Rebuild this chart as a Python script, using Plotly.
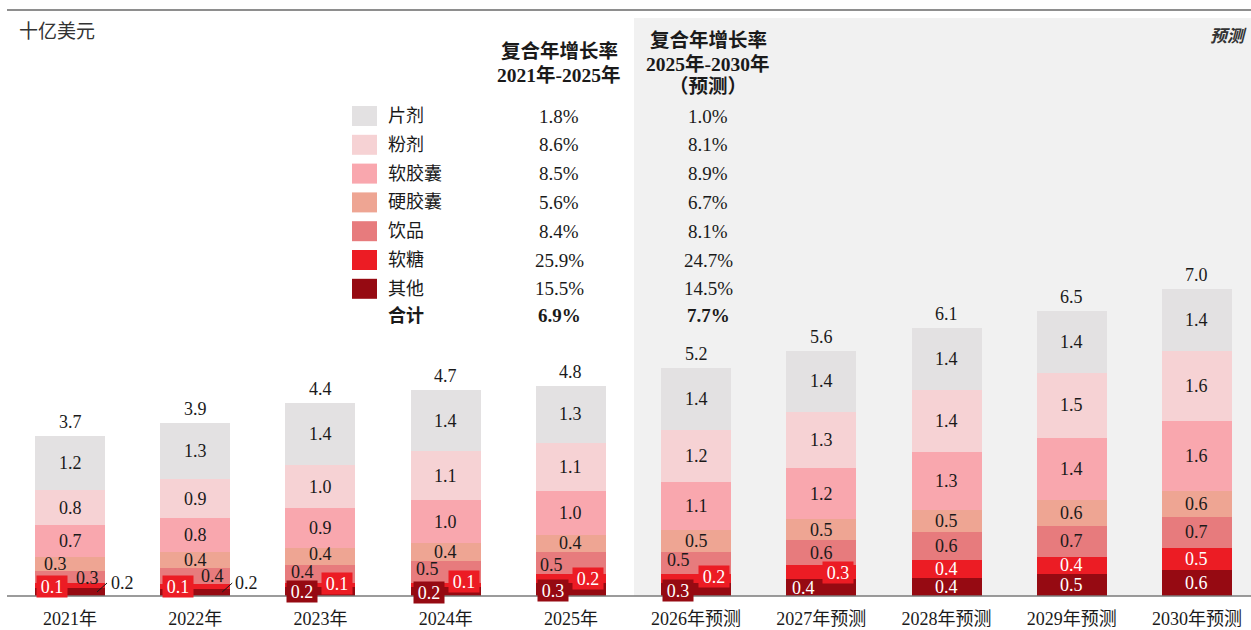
import plotly.graph_objects as go

# ---------------- data ----------------
YEARS = ["2021年", "2022年", "2023年", "2024年", "2025年",
         "2026年预测", "2027年预测", "2028年预测", "2029年预测", "2030年预测"]

tablet = [1.24, 1.28, 1.4, 1.4, 1.3, 1.4, 1.38, 1.42, 1.4, 1.4]     # 片剂
powder = [0.80, 0.88, 1.0, 1.1, 1.1, 1.2, 1.28, 1.42, 1.5, 1.6]     # 粉剂
softcap = [0.72, 0.78, 0.9, 1.0, 1.0, 1.1, 1.18, 1.32, 1.4, 1.6]    # 软胶囊
hardcap = [0.32, 0.36, 0.4, 0.4, 0.4, 0.5, 0.47, 0.52, 0.6, 0.6]    # 硬胶囊
drinks = [0.28, 0.36, 0.4, 0.5, 0.5, 0.5, 0.58, 0.62, 0.7, 0.7]     # 饮品
gummies = [0.12, 0.12, 0.1, 0.1, 0.2, 0.2, 0.32, 0.42, 0.4, 0.5]    # 软糖
others = [0.18, 0.16, 0.2, 0.2, 0.3, 0.3, 0.38, 0.41, 0.5, 0.6]     # 其他

# table order (top -> bottom)
TABLE_NAMES = ["片剂", "粉剂", "软胶囊", "硬胶囊", "饮品", "软糖", "其他"]
cagr_2021_2025 = ["1.8%", "8.6%", "8.5%", "5.6%", "8.4%", "25.9%", "15.5%"]
cagr_2025_2030 = ["1.0%", "8.1%", "8.9%", "6.7%", "8.1%", "24.7%", "14.5%"]
cagr_total = ["6.9%", "7.7%"]

# ---------------- style ----------------
W, H = 1251, 630
BASE_PX = 596          # baseline pixel row
PX_PER_UNIT = 43.8
X0_PX, STEP_PX = 70.0, 125.22
FONT = "Liberation Serif, Noto Sans CJK SC, serif"
TXT = "#1a1a1a"
BAR_FS, TICK_FS, NAME_FS, VAL_FS, HEAD_FS, UNIT_FS = 18, 18, 18, 19, 19.5, 19

COLORS = {
    "片剂": "#E3E1E2",
    "粉剂": "#F6D2D4",
    "软胶囊": "#F9A7AE",
    "硬胶囊": "#EEA593",
    "饮品": "#E77B7D",
    "软糖": "#EC1C24",
    "其他": "#960A12",
}
WHITE_TEXT = {"软糖", "其他"}

STACK = [("其他", others), ("软糖", gummies), ("饮品", drinks), ("硬胶囊", hardcap),
         ("软胶囊", softcap), ("粉剂", powder), ("片剂", tablet)]

# label nudges for thin segments: (year index, series) -> (dx px, dy px, boxed)
NUDGE = {
    (0, "硬胶囊"): (-15, 0, False), (0, "饮品"): (17, 1, False), (0, "软糖"): (-18, 1, True),
    (1, "饮品"): (17, 0, False), (1, "软糖"): (-17, 0, True),
    (2, "硬胶囊"): (0, -3, False), (2, "饮品"): (-18, -2, False),
    (2, "其他"): (-18, 0, True), (2, "软糖"): (17, -2, True),
    (3, "饮品"): (-18, -3, False), (3, "其他"): (-17, 1, True), (3, "软糖"): (18, -4, True),
    (4, "饮品"): (-19, 2, False), (4, "其他"): (-18, 1, True), (4, "软糖"): (17, 0, True),
    (5, "饮品"): (-18, -3, False), (5, "其他"): (-18, 1, True), (5, "软糖"): (18, -2, True),
    (6, "其他"): (-18, 0, False), (6, "软糖"): (17, 0, True),
}
# outside callouts: (year index, series) -> text dx px, dy px
CALLOUT = {(0, "其他"): (52, -9), (1, "其他"): (51, -9.5)}

xr0 = -X0_PX / STEP_PX
xr1 = xr0 + W / STEP_PX
yr1 = BASE_PX / PX_PER_UNIT


def xp(px):
    return px / W


def yp(py):
    return (BASE_PX - py) / BASE_PX


def note(**kw):
    kw.setdefault("showarrow", False)
    kw.setdefault("xanchor", "center")
    kw.setdefault("yanchor", "middle")
    return kw


fig = go.Figure()
xs = list(range(len(YEARS)))
for name, vals in STACK:
    fig.add_trace(go.Bar(x=xs, y=vals, name=name, width=70 / STEP_PX,
                         marker=dict(color=COLORS[name], line=dict(width=0)),
                         hoverinfo="skip", showlegend=False))

annotations = []
shapes = []

# forecast shading & lines
shapes.append(dict(type="rect", xref="paper", yref="paper", x0=xp(634), x1=1,
                   y0=0, y1=yp(18), fillcolor="#F1F1F1", line=dict(width=0), layer="below"))
shapes.append(dict(type="line", xref="paper", yref="paper", x0=xp(7), x1=1,
                   y0=yp(10), y1=yp(10), line=dict(color="#8E8E8E", width=2)))
shapes.append(dict(type="line", xref="paper", yref="paper", x0=xp(7), x1=1,
                   y0=0, y1=0, line=dict(color="#7A7A7A", width=1.5)))

# segment labels
for i in xs:
    cum = 0.0
    for name, vals in STACK:
        v = vals[i]
        mid = cum + v / 2
        cum += v
        color = "white" if name in WHITE_TEXT else TXT
        dx, dy, boxed = NUDGE.get((i, name), (0, 0, False))
        if (i, name) in CALLOUT:
            tdx, tdy = CALLOUT[(i, name)]
            annotations.append(note(x=i + tdx / STEP_PX, y=mid - tdy / PX_PER_UNIT,
                                    xref="x", yref="y", text=f"{v:.1f}",
                                    font=dict(family=FONT, size=BAR_FS, color=TXT)))
            shapes.append(dict(type="line", xref="x", yref="y",
                               x0=i + 27 / STEP_PX, x1=i + 37 / STEP_PX,
                               y0=4 / PX_PER_UNIT, y1=13 / PX_PER_UNIT,
                               line=dict(color=TXT, width=1)))
            continue
        ann = note(x=i + dx / STEP_PX, y=mid - dy / PX_PER_UNIT, xref="x", yref="y",
                   text=f"{v:.1f}", font=dict(family=FONT, size=BAR_FS, color=color))
        if boxed:
            ann.update(bgcolor=COLORS[name], width=28, height=19, borderpad=1)
        annotations.append(ann)
    annotations.append(note(x=i, y=cum, xref="x", yref="y", text=f"{cum:.1f}",
                            yanchor="bottom", yshift=2,
                            font=dict(family=FONT, size=BAR_FS, color=TXT)))

# unit label and forecast tag
annotations.append(note(x=xp(17), y=yp(31), xref="paper", yref="paper", text="十亿美元",
                        xanchor="left", font=dict(family=FONT, size=UNIT_FS, color="#333333")))
annotations.append(note(x=xp(1249), y=yp(36), xref="paper", yref="paper",
                        text="<b><i>预测</i></b>", xanchor="right",
                        font=dict(family=FONT, size=17, color="#333333")))

# CAGR table
COL1, COL2 = 559, 708
for k, line in enumerate(["复合年增长率", "2021年-2025年"]):
    annotations.append(note(x=xp(COL1), y=yp(51 + 24 * k), xref="paper", yref="paper",
                            text=f"<b>{line}</b>",
                            font=dict(family=FONT, size=HEAD_FS, color=TXT)))
for k, line in enumerate(["复合年增长率", "2025年-2030年", "（预测）"]):
    annotations.append(note(x=xp(COL2), y=yp(40 + 23.5 * k), xref="paper", yref="paper",
                            text=f"<b>{line}</b>",
                            font=dict(family=FONT, size=HEAD_FS, color=TXT)))

ROW0, ROW_STEP = 116, 28.8
for r, name in enumerate(TABLE_NAMES):
    yc = ROW0 + ROW_STEP * r
    shapes.append(dict(type="rect", xref="paper", yref="paper", x0=xp(352), x1=xp(377),
                       y0=yp(yc + 10), y1=yp(yc - 10), fillcolor=COLORS[name],
                       line=dict(width=0)))
    annotations.append(note(x=xp(386), y=yp(yc), xref="paper", yref="paper", text=name,
                            xanchor="left", font=dict(family=FONT, size=NAME_FS, color=TXT)))
    annotations.append(note(x=xp(COL1), y=yp(yc), xref="paper", yref="paper",
                            text=cagr_2021_2025[r],
                            font=dict(family=FONT, size=VAL_FS, color=TXT)))
    annotations.append(note(x=xp(COL2), y=yp(yc), xref="paper", yref="paper",
                            text=cagr_2025_2030[r],
                            font=dict(family=FONT, size=VAL_FS, color=TXT)))
yt = 315
annotations.append(note(x=xp(386), y=yp(yt), xref="paper", yref="paper", text="<b>合计</b>",
                        xanchor="left", font=dict(family=FONT, size=NAME_FS, color=TXT)))
annotations.append(note(x=xp(COL1), y=yp(yt), xref="paper", yref="paper",
                        text=f"<b>{cagr_total[0]}</b>",
                        font=dict(family=FONT, size=VAL_FS, color=TXT)))
annotations.append(note(x=xp(COL2), y=yp(yt), xref="paper", yref="paper",
                        text=f"<b>{cagr_total[1]}</b>",
                        font=dict(family=FONT, size=VAL_FS, color=TXT)))

fig.update_layout(
    width=W, height=H, barmode="stack", bargap=0,
    margin=dict(l=0, r=0, t=0, b=H - BASE_PX, pad=0, autoexpand=False),
    paper_bgcolor="white", plot_bgcolor="rgba(0,0,0,0)",
    xaxis=dict(range=[xr0, xr1], tickmode="array", tickvals=xs, ticktext=YEARS,
               showgrid=False, zeroline=False, showline=False, ticks="outside",
               ticklen=6, tickcolor="rgba(0,0,0,0)", automargin=False,
               tickfont=dict(family=FONT, size=TICK_FS, color=TXT), fixedrange=True),
    yaxis=dict(range=[0, yr1], visible=False, fixedrange=True, automargin=False),
    annotations=annotations, shapes=shapes,
)

fig.write_html("out.html", config={"displayModeBar": False},
               post_script="document.body.style.margin='0';")
